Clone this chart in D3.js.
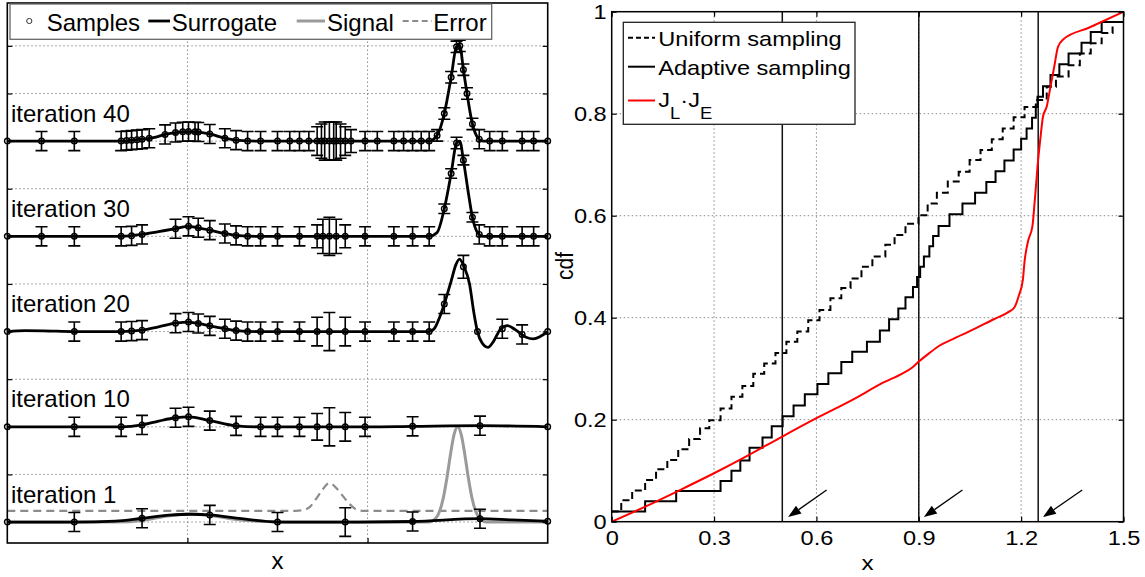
<!DOCTYPE html>
<html lang="en">
<head>
<meta charset="UTF-8">
<title>Adaptive sampling: surrogate iterations and cdf</title>
<script src="https://d3js.org/d3.v7.min.js"></script>
<style>
  body { margin: 0; background: #fff; }
  svg { display: block; font-family: Arial, 'Liberation Sans', sans-serif; }
</style>
</head>
<body>
<div id="chart"></div>
<script>
// ---------- left panel data (y relative to each row's baseline) ----------
const rowOffsets = [0, 1, 2, 3, 4];
const rowLabels = ["iteration 1", "iteration 10", "iteration 20", "iteration 30", "iteration 40"];
const leftLegend = ["Samples", "Surrogate", "Signal", "Error"];
const leftGridX = [0.5, 1.0];
const leftGridY = [0, 0.5, 1, 1.5, 2, 2.5, 3, 3.5, 4, 4.5, 5];

// true signal and predicted error, shown in the iteration 1 row
const signal1 = [[0, 0], [0.3, 0], [0.38, 0.02], [0.44, 0.06], [0.5, 0.085], [0.56, 0.07], [0.62, 0.035],
  [0.7, 0.008], [0.78, 0], [1.17, 0], [1.19, 0.044], [1.2, 0.114], [1.21, 0.25], [1.22, 0.458], [1.23, 0.707],
  [1.24, 0.917], [1.25, 1.0], [1.26, 0.917], [1.27, 0.707], [1.28, 0.458], [1.29, 0.25], [1.3, 0.114],
  [1.31, 0.044], [1.33, 0], [1.5, 0]];
const error1 = [[0, 0.118], [0.8, 0.118], [0.82, 0.125], [0.84, 0.16], [0.86, 0.26], [0.875, 0.34], [0.894, 0.41],
  [0.91, 0.37], [0.93, 0.28], [0.95, 0.19], [0.97, 0.13], [0.99, 0.118], [1.5, 0.118]];

// surrogate curves
const surr1 = [[0, 0], [0.186, 0], [0.3, 0.01], [0.374, 0.04], [0.45, 0.072], [0.51, 0.082], [0.562, 0.075],
  [0.65, 0.035], [0.75, 0], [0.938, 0], [1.125, 0.006], [1.312, 0.035], [1.4, 0.022], [1.5, 0.008]];
const surr10 = [[0, 0], [0.316, 0], [0.374, 0.02], [0.42, 0.06], [0.467, 0.095], [0.503, 0.105], [0.562, 0.065],
  [0.635, 0.01], [0.7, 0], [1.0, 0], [1.125, 0.005], [1.312, 0.012], [1.5, 0]];
const surr20 = [[0, 0], [0.05, 0.01], [0.1, 0.008], [0.186, 0], [0.316, 0], [0.374, 0.015], [0.42, 0.05],
  [0.467, 0.088], [0.503, 0.1], [0.53, 0.085], [0.562, 0.06], [0.604, 0.03], [0.635, 0.01], [0.7, 0],
  [1.171, 0], [1.185, 0.03], [1.2, 0.15], [1.213, 0.29], [1.232, 0.53], [1.245, 0.7], [1.255, 0.76],
  [1.268, 0.68], [1.283, 0.5], [1.295, 0.2], [1.305, 0], [1.318, -0.12], [1.334, -0.165], [1.35, -0.1],
  [1.368, 0.02], [1.388, 0.063], [1.41, 0.02], [1.44, -0.06], [1.46, -0.077], [1.48, -0.05], [1.5, 0]];
const surr30 = [[0, 0], [0.316, 0], [0.374, 0.02], [0.42, 0.05], [0.467, 0.08], [0.503, 0.105], [0.53, 0.09],
  [0.562, 0.065], [0.604, 0.03], [0.635, 0.01], [0.7, 0], [1.171, 0], [1.193, 0.04], [1.213, 0.29],
  [1.232, 0.66], [1.247, 0.98], [1.256, 1.0], [1.266, 0.8], [1.28, 0.45], [1.291, 0.2], [1.305, 0.04],
  [1.32, 0], [1.5, 0]];
const surr40 = [[0, 0], [0.316, 0], [0.345, 0.01], [0.374, 0.02], [0.409, 0.04], [0.438, 0.07], [0.467, 0.09],
  [0.503, 0.1], [0.53, 0.095], [0.562, 0.075], [0.604, 0.03], [0.635, 0.01], [0.7, 0], [1.171, 0],
  [1.193, 0.06], [1.213, 0.29], [1.232, 0.67], [1.247, 0.99], [1.256, 1.0], [1.266, 0.75], [1.276, 0.5],
  [1.291, 0.18], [1.305, 0.04], [1.32, 0], [1.5, 0]];

// samples: [x, y, error bar half height]
const samp1 = [[0, 0, 0], [0.186, 0, 0.1], [0.374, 0.04, 0.1], [0.562, 0.075, 0.1], [0.75, 0, 0.1],
  [0.938, 0, 0.15], [1.125, 0.006, 0.1], [1.312, 0.035, 0.1], [1.5, 0.008, 0]];
const samp10 = [[0, 0, 0], [0.186, 0, 0.1], [0.316, 0, 0.1], [0.374, 0.02, 0.1], [0.467, 0.095, 0.1],
  [0.503, 0.105, 0.1], [0.562, 0.065, 0.1], [0.635, 0.01, 0.1], [0.703, 0, 0.1], [0.75, 0, 0.1],
  [0.811, 0, 0.1], [0.86, 0, 0.14], [0.894, 0, 0.2], [0.938, 0, 0.15], [0.993, 0, 0.1], [1.125, 0.005, 0.1],
  [1.312, 0.012, 0.1], [1.5, 0, 0]];
const samp20 = [[0, 0, 0], [0.186, 0, 0.1], [0.316, 0, 0.1], [0.345, 0.005, 0.1], [0.374, 0.015, 0.1],
  [0.467, 0.088, 0.1], [0.503, 0.1, 0.1], [0.53, 0.085, 0.1], [0.562, 0.06, 0.1], [0.604, 0.03, 0.1],
  [0.635, 0.01, 0.1], [0.667, 0, 0.1], [0.703, 0, 0.1], [0.75, 0, 0.1], [0.811, 0, 0.1], [0.86, 0, 0.15],
  [0.894, 0, 0.2], [0.938, 0, 0.15], [0.993, 0, 0.1], [1.073, 0, 0.1], [1.125, 0, 0.1], [1.171, 0, 0.1],
  [1.213, 0.29, 0.1], [1.266, 0.68, 0.12], [1.305, 0, 0], [1.374, 0.03, 0.1], [1.429, -0.03, 0.1], [1.5, 0, 0]];
const samp30 = [[0, 0, 0], [0.095, 0, 0.1], [0.186, 0, 0.1], [0.316, 0, 0.1], [0.345, 0.005, 0.1],
  [0.374, 0.02, 0.1], [0.467, 0.08, 0.1], [0.503, 0.105, 0.1], [0.53, 0.09, 0.1], [0.562, 0.065, 0.1],
  [0.604, 0.03, 0.1], [0.635, 0.01, 0.1], [0.667, 0, 0.1], [0.703, 0, 0.1], [0.75, 0, 0.1], [0.811, 0, 0.1],
  [0.86, 0, 0.12], [0.876, 0, 0.18], [0.894, 0, 0.2], [0.913, 0, 0.18], [0.938, 0, 0.12], [0.993, 0, 0.1],
  [1.073, 0, 0.1], [1.125, 0, 0.1], [1.171, 0, 0.1], [1.213, 0.29, 0.05], [1.232, 0.66, 0.05],
  [1.247, 0.98, 0.06], [1.266, 0.8, 0.05], [1.291, 0.2, 0.05], [1.31, 0.02, 0.1], [1.339, 0, 0.1],
  [1.374, 0, 0.1], [1.429, 0, 0.1], [1.461, 0, 0.1], [1.5, 0, 0]];
const samp40 = [[0, 0, 0], [0.095, 0, 0.1], [0.186, 0, 0.1], [0.316, 0, 0.1], [0.331, 0.005, 0.1],
  [0.345, 0.01, 0.1], [0.36, 0.015, 0.1], [0.374, 0.02, 0.1], [0.394, 0.03, 0.1], [0.438, 0.07, 0.1],
  [0.467, 0.09, 0.1], [0.487, 0.098, 0.1], [0.503, 0.1, 0.1], [0.521, 0.098, 0.1], [0.53, 0.095, 0.1],
  [0.562, 0.075, 0.1], [0.604, 0.03, 0.1], [0.635, 0.01, 0.1], [0.667, 0, 0.1], [0.703, 0, 0.1],
  [0.75, 0, 0.1], [0.784, 0, 0.1], [0.811, 0, 0.1], [0.837, 0, 0.1], [0.86, 0, 0.15], [0.872, 0, 0.18],
  [0.881, 0, 0.2], [0.894, 0, 0.2], [0.906, 0, 0.2], [0.913, 0, 0.2], [0.925, 0, 0.18], [0.938, 0, 0.15],
  [0.954, 0, 0.12], [0.993, 0, 0.1], [1.027, 0, 0.1], [1.073, 0, 0.1], [1.1, 0, 0.1], [1.125, 0, 0.1],
  [1.149, 0, 0.1], [1.171, 0, 0.1], [1.193, 0.06, 0.06], [1.213, 0.29, 0.06], [1.232, 0.67, 0.06],
  [1.247, 0.99, 0.06], [1.256, 1.0, 0.06], [1.266, 0.75, 0.06], [1.276, 0.5, 0.06], [1.291, 0.18, 0.06],
  [1.31, 0.02, 0.1], [1.339, 0, 0.1], [1.374, 0, 0.1], [1.429, 0, 0.1], [1.461, 0, 0.1], [1.5, 0, 0]];

// ---------- right panel data ----------
const rightLegend = ["Uniform sampling", "Adaptive sampling"];
const xTicksR = [0, 0.3, 0.6, 0.9, 1.2, 1.5];
const yTicksR = [0, 0.2, 0.4, 0.6, 0.8, 1];
const uniformX = [0, 0.028, 0.06, 0.098, 0.13, 0.163, 0.195, 0.227, 0.259, 0.286, 0.319, 0.351, 0.383, 0.415,
  0.447, 0.48, 0.512, 0.544, 0.576, 0.609, 0.641, 0.673, 0.7, 0.732, 0.764, 0.802, 0.829, 0.861, 0.899, 0.926,
  0.953, 0.985, 1.017, 1.049, 1.081, 1.114, 1.146, 1.178, 1.21, 1.243, 1.275, 1.302, 1.339, 1.372, 1.404,
  1.436, 1.468];
const uniformY = [0.02, 0.042, 0.061, 0.082, 0.103, 0.121, 0.142, 0.162, 0.183, 0.199, 0.222, 0.245, 0.266,
  0.29, 0.31, 0.331, 0.353, 0.373, 0.395, 0.415, 0.438, 0.458, 0.477, 0.5, 0.52, 0.543, 0.562, 0.584, 0.601,
  0.624, 0.645, 0.667, 0.686, 0.709, 0.729, 0.75, 0.771, 0.793, 0.813, 0.827, 0.853, 0.873, 0.895, 0.918,
  0.938, 0.958, 0.98];
const adaptiveX = [0, 0.098, 0.189, 0.319, 0.351, 0.377, 0.404, 0.442, 0.469, 0.501, 0.533, 0.566, 0.603, 0.635,
  0.673, 0.705, 0.748, 0.786, 0.813, 0.84, 0.861, 0.883, 0.895, 0.904, 0.915, 0.931, 0.942, 0.958, 0.99, 1.028,
  1.065, 1.098, 1.125, 1.151, 1.178, 1.2, 1.216, 1.232, 1.243, 1.248, 1.264, 1.286, 1.312, 1.339, 1.377, 1.404,
  1.436];
const adaptiveY = [0.02, 0.04, 0.06, 0.08, 0.1, 0.12, 0.145, 0.165, 0.187, 0.207, 0.228, 0.25, 0.27, 0.291, 0.313,
  0.333, 0.353, 0.375, 0.397, 0.418, 0.44, 0.46, 0.48, 0.5, 0.52, 0.54, 0.56, 0.58, 0.603, 0.624, 0.645, 0.666,
  0.687, 0.708, 0.73, 0.751, 0.771, 0.792, 0.813, 0.833, 0.854, 0.876, 0.897, 0.918, 0.939, 0.96, 0.98];
const jointX = [0, 0.1, 0.2, 0.3, 0.4, 0.5, 0.6, 0.7, 0.8, 0.85, 0.88, 0.9, 0.93, 0.96, 1.0, 1.06, 1.12, 1.16,
  1.18, 1.194, 1.205, 1.21, 1.221, 1.233, 1.24, 1.248, 1.256, 1.264, 1.275, 1.286, 1.297, 1.308, 1.324, 1.4, 1.5];
const jointY = [0, 0.03, 0.062, 0.095, 0.13, 0.167, 0.203, 0.237, 0.274, 0.29, 0.302, 0.314, 0.33, 0.345, 0.358,
  0.377, 0.397, 0.41, 0.42, 0.445, 0.474, 0.51, 0.552, 0.579, 0.63, 0.696, 0.749, 0.794, 0.814, 0.853, 0.892,
  0.931, 0.946, 0.969, 1.0];
const markLines = [0.5, 0.9, 1.25];
const arrowTipX = [0.517, 0.915, 1.264];
const arrowTailX = [0.63, 1.028, 1.379];
const arrowTipY = 0.009, arrowTailY = 0.062;

// ---------- drawing ----------
const W = 1145, H = 577;
const SX = 1.15; // right panel text is horizontally stretched in the original
const svg = d3.select("#chart").append("svg").attr("width", W).attr("height", H);
svg.append("rect").attr("width", W).attr("height", H).attr("fill", "#fff");

const gridColor = "#8a8a8a";
function grid(g, xs, ys, x, y) {
  const [x0, x1] = x.range(), [y0, y1] = y.range();
  g.selectAll(null).data(xs).enter().append("line")
    .attr("x1", d => x(d)).attr("x2", d => x(d)).attr("y1", y0).attr("y2", y1)
    .attr("stroke", gridColor).attr("stroke-width", 1).attr("stroke-dasharray", "1.5,2.5");
  g.selectAll(null).data(ys).enter().append("line")
    .attr("x1", x0).attr("x2", x1).attr("y1", d => y(d)).attr("y2", d => y(d))
    .attr("stroke", gridColor).attr("stroke-width", 1).attr("stroke-dasharray", "1.5,2.5");
}

// ===== left panel =====
const xL = d3.scaleLinear().domain([0, 1.5]).range([7.3, 547.7]);
const yL = d3.scaleLinear().domain([-0.22, 5.45]).range([543, 3]);
const gL = svg.append("g");
grid(gL, leftGridX, leftGridY, xL, yL);

const rows = [
  { off: rowOffsets[0], label: rowLabels[0], surr: surr1, samp: samp1 },
  { off: rowOffsets[1], label: rowLabels[1], surr: surr10, samp: samp10 },
  { off: rowOffsets[2], label: rowLabels[2], surr: surr20, samp: samp20 },
  { off: rowOffsets[3], label: rowLabels[3], surr: surr30, samp: samp30 },
  { off: rowOffsets[4], label: rowLabels[4], surr: surr40, samp: samp40 }
];

const rowLine = off => d3.line().x(d => xL(d[0])).y(d => yL(d[1] + off)).curve(d3.curveMonotoneX);

gL.append("path").datum(error1).attr("d", rowLine(0)).attr("fill", "none")
  .attr("stroke", "#8c8c8c").attr("stroke-width", 2.2).attr("stroke-dasharray", "8,5");
gL.append("path").datum(signal1).attr("d", rowLine(0)).attr("fill", "none")
  .attr("stroke", "#9a9a9a").attr("stroke-width", 3);

rows.forEach(r => {
  gL.append("path").datum(r.surr).attr("d", rowLine(r.off)).attr("fill", "none")
    .attr("stroke", "#000").attr("stroke-width", 2.8);
  const bars = r.samp.filter(d => d[2] > 0);
  const cap = 6;
  gL.selectAll(null).data(bars).enter().append("path")
    .attr("d", d => {
      const cx = xL(d[0]), ya = yL(d[1] + r.off + d[2]), yb = yL(d[1] + r.off - d[2]);
      return `M${cx},${ya}V${yb}M${cx - cap},${ya}H${cx + cap}M${cx - cap},${yb}H${cx + cap}`;
    })
    .attr("fill", "none").attr("stroke", "#000").attr("stroke-width", 1.6);
  gL.selectAll(null).data(r.samp).enter().append("circle")
    .attr("cx", d => xL(d[0])).attr("cy", d => yL(d[1] + r.off)).attr("r", 2.8)
    .attr("fill", "none").attr("stroke", "#000").attr("stroke-width", 1.4);
  gL.append("text").attr("x", 11).attr("y", yL(r.off + 0.205))
    .attr("font-size", 24).attr("fill", "#000").text(r.label);
});

// ticks (inside) and box
gL.append("g").attr("transform", `translate(${xL(0)},0)`)
  .call(d3.axisLeft(yL).tickValues(leftGridY).tickSizeInner(-5).tickSizeOuter(0).tickFormat(""));
gL.append("g").attr("transform", `translate(${xL(1.5)},0)`)
  .call(d3.axisRight(yL).tickValues(leftGridY).tickSizeInner(-5).tickSizeOuter(0).tickFormat(""));
gL.append("g").attr("transform", `translate(0,${yL.range()[0]})`)
  .call(d3.axisBottom(xL).tickValues(leftGridX).tickSizeInner(-5).tickSizeOuter(0).tickFormat(""));
gL.append("g").attr("transform", `translate(0,${yL.range()[1]})`)
  .call(d3.axisTop(xL).tickValues(leftGridX).tickSizeInner(-5).tickSizeOuter(0).tickFormat(""));
gL.selectAll(".domain").remove();
gL.selectAll(".tick line").attr("stroke", "#000").attr("stroke-width", 1.2);
gL.append("rect").attr("x", xL(0)).attr("y", yL.range()[1])
  .attr("width", xL(1.5) - xL(0)).attr("height", yL.range()[0] - yL.range()[1])
  .attr("fill", "none").attr("stroke", "#000").attr("stroke-width", 1.6);
gL.append("text").attr("x", xL(0.75)).attr("y", 569).attr("text-anchor", "middle")
  .attr("font-size", 24).text("x");

// left legend
const lg = gL.append("g");
lg.append("rect").attr("x", 10).attr("y", 4).attr("width", 481.7).attr("height", 35.3)
  .attr("fill", "#fff").attr("stroke", "#666").attr("stroke-width", 1.3);
const legY = 21, legBase = 30.5;
lg.append("circle").attr("cx", 29.3).attr("cy", legY).attr("r", 2.6)
  .attr("fill", "none").attr("stroke", "#333").attr("stroke-width", 1);
lg.append("line").attr("x1", 148.3).attr("x2", 170).attr("y1", legY).attr("y2", legY)
  .attr("stroke", "#000").attr("stroke-width", 2.8);
lg.append("line").attr("x1", 296.7).attr("x2", 325).attr("y1", legY).attr("y2", legY)
  .attr("stroke", "#9a9a9a").attr("stroke-width", 3);
lg.append("line").attr("x1", 402.7).attr("x2", 431.7).attr("y1", legY).attr("y2", legY)
  .attr("stroke", "#8c8c8c").attr("stroke-width", 2.2).attr("stroke-dasharray", "6,3.5");
[46.7, 171.7, 327, 433.3].forEach((lx, i) => {
  lg.append("text").attr("x", lx).attr("y", legBase).attr("font-size", 24).text(leftLegend[i]);
});

// ===== right panel =====
const xR = d3.scaleLinear().domain([0, 1.5]).range([611.7, 1123.5]);
const yR = d3.scaleLinear().domain([0, 1]).range([521.7, 11.7]);
const gR = svg.append("g");
grid(gR, xTicksR.slice(1, -1), yTicksR.slice(1, -1), xR, yR);

gR.selectAll(null).data(markLines).enter().append("line")
  .attr("x1", d => xR(d)).attr("x2", d => xR(d)).attr("y1", yR(0)).attr("y2", yR(1))
  .attr("stroke", "#111").attr("stroke-width", 1.5);

const stepLine = d3.line().x(d => xR(d[0])).y(d => yR(d[1])).curve(d3.curveStepAfter);
const uniPts = uniformX.map((x, i) => [x, uniformY[i]]);
uniPts.push([1.5, uniformY[uniformY.length - 1]]);
const adaPts = adaptiveX.map((x, i) => [x, adaptiveY[i]]);
adaPts.push([1.5, adaptiveY[adaptiveY.length - 1]]);
const jointPts = jointX.map((x, i) => [x, jointY[i]]);

gR.append("path").datum(uniPts).attr("d", stepLine).attr("fill", "none")
  .attr("stroke", "#000").attr("stroke-width", 2).attr("stroke-dasharray", "7,4");
gR.append("path").datum(adaPts).attr("d", stepLine).attr("fill", "none")
  .attr("stroke", "#000").attr("stroke-width", 2);
gR.append("path").datum(jointPts)
  .attr("d", d3.line().x(d => xR(d[0])).y(d => yR(d[1])).curve(d3.curveMonotoneX))
  .attr("fill", "none").attr("stroke", "#ff0000").attr("stroke-width", 2);

// arrows toward the three marked lines
arrowTipX.forEach((tx, i) => {
  const x1 = xR(arrowTailX[i]), y1 = yR(arrowTailY), x2 = xR(tx), y2 = yR(arrowTipY);
  const ang = Math.atan2(y2 - y1, x2 - x1), len = 13, hw = 4.8;
  const bx = x2 - len * Math.cos(ang), by = y2 - len * Math.sin(ang);
  gR.append("line").attr("x1", x1).attr("y1", y1).attr("x2", bx).attr("y2", by)
    .attr("stroke", "#000").attr("stroke-width", 1.3);
  const px = -Math.sin(ang) * hw, py = Math.cos(ang) * hw;
  gR.append("path").attr("d", `M${x2},${y2}L${bx + px},${by + py}L${bx - px},${by - py}Z`).attr("fill", "#000");
});

// axes with inside ticks
const fmt = d3.format("");
const axB = gR.append("g").attr("transform", `translate(0,${yR(0)})`)
  .call(d3.axisBottom(xR).tickValues(xTicksR).tickSizeInner(-5).tickSizeOuter(0).tickPadding(9).tickFormat(fmt));
const axL = gR.append("g").attr("transform", `translate(${xR(0)},0)`)
  .call(d3.axisLeft(yR).tickValues(yTicksR).tickSizeInner(-5).tickSizeOuter(0).tickFormat(fmt));
gR.append("g").attr("transform", `translate(0,${yR(1)})`)
  .call(d3.axisTop(xR).tickValues(xTicksR).tickSizeInner(-5).tickSizeOuter(0).tickFormat(""));
gR.append("g").attr("transform", `translate(${xR(1.5)},0)`)
  .call(d3.axisRight(yR).tickValues(yTicksR).tickSizeInner(-5).tickSizeOuter(0).tickFormat(""));
gR.selectAll(".domain").remove();
gR.selectAll(".tick line").attr("stroke", "#000").attr("stroke-width", 1.2);
[axB, axL].forEach(a => a.attr("font-size", 20.5).attr("font-family", "Arial, 'Liberation Sans', sans-serif"));
axB.selectAll("text").attr("fill", "#000").attr("transform", `scale(${SX},1)`);
axL.selectAll("text").attr("fill", "#000").attr("x", -5 / SX).attr("transform", `scale(${SX},1)`);

gR.append("rect").attr("x", xR(0)).attr("y", yR(1)).attr("width", xR(1.5) - xR(0)).attr("height", yR(0) - yR(1))
  .attr("fill", "none").attr("stroke", "#000").attr("stroke-width", 1.5);

gR.append("text").attr("transform", `translate(${xR(0.75)},570) scale(${SX},1)`)
  .attr("text-anchor", "middle").attr("font-size", 21).text("x");
gR.append("text").attr("transform", `translate(573,266) rotate(-90) scale(1,${SX})`)
  .attr("text-anchor", "middle").attr("font-size", 21).text("cdf");

// right legend
const rg = gR.append("g");
rg.append("rect").attr("x", 623.3).attr("y", 22.3).attr("width", 231.7).attr("height", 102)
  .attr("fill", "#fff").attr("stroke", "#222").attr("stroke-width", 1.3);
rg.append("line").attr("x1", 628).attr("x2", 655).attr("y1", 37.7).attr("y2", 37.7)
  .attr("stroke", "#000").attr("stroke-width", 2).attr("stroke-dasharray", "5,3");
rg.append("line").attr("x1", 628).attr("x2", 655).attr("y1", 66.7).attr("y2", 66.7)
  .attr("stroke", "#000").attr("stroke-width", 2);
rg.append("line").attr("x1", 628).attr("x2", 655).attr("y1", 100.5).attr("y2", 100.5)
  .attr("stroke", "#ff0000").attr("stroke-width", 2);
[46, 75].forEach((by, i) => {
  rg.append("text").attr("transform", `translate(658.3,${by}) scale(${SX},1)`)
    .attr("font-size", 20.5).text(rightLegend[i]);
});
const jt = rg.append("text").attr("transform", `translate(658.3,106.5) scale(${SX},1)`).attr("font-size", 20.5);
jt.append("tspan").text("J");
jt.append("tspan").attr("font-size", 16).attr("dy", 12).text("L");
jt.append("tspan").attr("dy", -12).text("\u00B7J");
jt.append("tspan").attr("font-size", 16).attr("dy", 12).text("E");
</script>
</body>
</html>
